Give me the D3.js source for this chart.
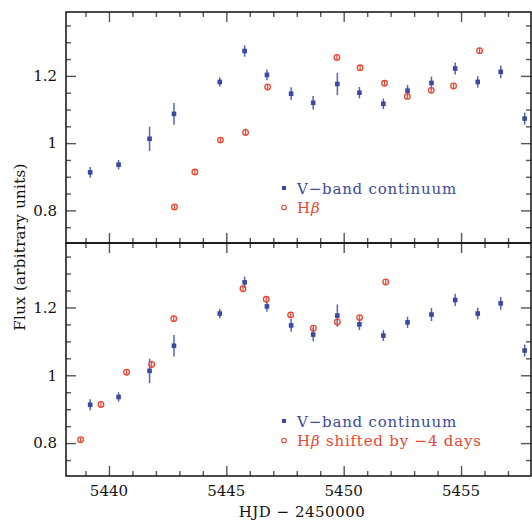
<!DOCTYPE html>
<html><head><meta charset="utf-8">
<script src="https://cdn.jsdelivr.net/npm/d3@7"></script>
<style>
body{margin:0;background:#fff;}
svg{display:block;}
text{font-family:"DejaVu Serif",serif;}
</style></head>
<body>
<svg id="c" width="532" height="521"></svg>
<script>
// ---- data ----
const vTime = [5439.20,5440.41,5441.73,5442.77,5444.72,5445.78,5446.73,5447.76,5448.70,5449.73,5450.67,5451.69,5452.72,5453.74,5454.75,5455.71,5456.69,5457.71];
const vFlux = [0.913,0.936,1.013,1.087,1.182,1.274,1.203,1.147,1.120,1.176,1.150,1.117,1.156,1.179,1.222,1.182,1.212,1.073];
const vErr  = [0.016,0.014,0.036,0.032,0.014,0.017,0.016,0.019,0.020,0.033,0.017,0.016,0.017,0.019,0.018,0.017,0.019,0.018];
const hbTime = [5442.79,5443.66,5444.75,5445.82,5446.76,5449.71,5450.70,5451.74,5452.71,5453.73,5454.68,5455.79];
const hbFlux = [0.810,0.914,1.009,1.032,1.167,1.255,1.224,1.178,1.139,1.157,1.170,1.275];
const hbErr  = [0.006,0.009,0.006,0.011,0.008,0.008,0.007,0.007,0.008,0.008,0.007,0.008];
const shiftDays = -4;
const xMajor = [5440,5445,5450,5455];
const yMajor = [0.8,1.0,1.2];
const legendTop = ["V\u2212band continuum",""];
const legendBottom = ["V\u2212band continuum"," shifted by \u22124 days"];
const xLabel = "HJD \u2212 2450000";
const yLabel = "Flux (arbitrary units)";

// ---- layout ----
const blue = "#3a49a2", blueErr = "#5566b8", red = "#ee4530";
const L = 66, R = 531;
const svg = d3.select("#c");
const x = d3.scaleLinear().domain([5438.17, 5457.98]).range([L, R]);
const panels = [
  {top:12, bottom:243, shift:0, legend:legendTop},
  {top:243, bottom:476, shift:shiftDays, legend:legendBottom}
];
const xMinor = d3.range(5439, 5458, 1).filter(d => !xMajor.includes(d));
const yMinorAll = d3.range(0.75, 1.39, 0.05).map(d => +d.toFixed(2)).filter(d => !yMajor.some(m => Math.abs(m-d)<1e-6));

function fmtY(d){ return d === 1 ? "1" : d3.format(".1f")(d); }

panels.forEach((p, i) => {
  const y = d3.scaleLinear().domain([0.703, 1.39]).range([p.bottom, p.top]);
  const g = svg.append("g");
  const tickStyle = sel => { sel.select(".domain").remove(); sel.selectAll("line").attr("stroke","#555").attr("stroke-width",1.4); sel.selectAll("text").remove(); };

  g.append("g").attr("transform",`translate(0,${p.bottom})`).call(d3.axisTop(x).tickValues(xMajor).tickSize(10).tickFormat("")).call(tickStyle);
  g.append("g").attr("transform",`translate(0,${p.bottom})`).call(d3.axisTop(x).tickValues(xMinor).tickSize(5).tickFormat("")).call(tickStyle);
  g.append("g").attr("transform",`translate(0,${p.top})`).call(d3.axisBottom(x).tickValues(xMajor).tickSize(10).tickFormat("")).call(tickStyle);
  g.append("g").attr("transform",`translate(0,${p.top})`).call(d3.axisBottom(x).tickValues(xMinor).tickSize(5).tickFormat("")).call(tickStyle);
  g.append("g").attr("transform",`translate(${L},0)`).call(d3.axisRight(y).tickValues(yMajor).tickSize(10).tickFormat("")).call(tickStyle);
  g.append("g").attr("transform",`translate(${L},0)`).call(d3.axisRight(y).tickValues(yMinorAll).tickSize(5).tickFormat("")).call(tickStyle);
  g.append("g").attr("transform",`translate(${R},0)`).call(d3.axisLeft(y).tickValues(yMajor).tickSize(10).tickFormat("")).call(tickStyle);
  g.append("g").attr("transform",`translate(${R},0)`).call(d3.axisLeft(y).tickValues(yMinorAll).tickSize(5).tickFormat("")).call(tickStyle);

  g.selectAll(".yl").data(yMajor).enter().append("text")
    .attr("x", 57).attr("y", d => y(d)).attr("dy","0.35em")
    .attr("text-anchor","end").attr("font-size",15).attr("fill","#111").text(fmtY);

  g.append("rect").attr("x",L).attr("y",p.top).attr("width",R-L).attr("height",p.bottom-p.top)
    .attr("fill","none").attr("stroke","#111").attr("stroke-width",1.5);

  const vd = vTime.map((t,k)=>({t, f:vFlux[k], e:vErr[k]}));
  g.selectAll(".ve").data(vd).enter().append("line")
    .attr("x1",d=>x(d.t)).attr("x2",d=>x(d.t))
    .attr("y1",d=>y(d.f-d.e)).attr("y2",d=>y(d.f+d.e))
    .attr("stroke",blueErr).attr("stroke-width",1.5);
  g.selectAll(".vs").data(vd).enter().append("rect")
    .attr("x",d=>x(d.t)-2.3).attr("y",d=>y(d.f)-2.3).attr("width",4.6).attr("height",4.6)
    .attr("fill",blue);

  const hd = hbTime.map((t,k)=>({t:t+p.shift, f:hbFlux[k], e:hbErr[k]}));
  g.selectAll(".he").data(hd).enter().append("line")
    .attr("x1",d=>x(d.t)).attr("x2",d=>x(d.t))
    .attr("y1",d=>y(d.f-d.e)).attr("y2",d=>y(d.f+d.e))
    .attr("stroke",red).attr("stroke-width",1.2);
  g.selectAll(".hc").data(hd).enter().append("circle")
    .attr("cx",d=>x(d.t)).attr("cy",d=>y(d.f)).attr("r",2.8)
    .attr("fill","none").attr("stroke",red).attr("stroke-width",1.3);

  // legend
  const ly = p.bottom - 55;
  g.append("rect").attr("x",282).attr("y",ly-2).attr("width",4).attr("height",4).attr("fill",blue);
  g.append("text").attr("x",297).attr("y",ly+5.5).attr("font-size",15).attr("letter-spacing",0.8).attr("fill",blue).text(p.legend[0]);
  g.append("circle").attr("cx",284).attr("cy",ly+19.5).attr("r",2.3).attr("fill","none").attr("stroke",red).attr("stroke-width",1.1);
  const t2 = g.append("text").attr("x",297).attr("y",ly+25).attr("font-size",15).attr("letter-spacing",0.8).attr("fill",red);
  t2.append("tspan").text("H");
  t2.append("tspan").attr("font-style","italic").text("\u03B2");
  t2.append("tspan").text(p.legend[1]);
});

svg.selectAll(".xl").data(xMajor).enter().append("text")
  .attr("x", d => x(d)).attr("y", 496).attr("text-anchor","middle")
  .attr("font-size",15).attr("fill","#111").text(d => d);
svg.append("text").attr("x", 302).attr("y", 517).attr("text-anchor","middle")
  .attr("font-size",15).attr("letter-spacing",0.5).attr("fill","#111").text(xLabel);
svg.append("text").attr("transform","translate(25,247) rotate(-90)").attr("text-anchor","middle")
  .attr("font-size",15).attr("letter-spacing",0.3).attr("fill","#111").text(yLabel);
</script>
</body></html>
